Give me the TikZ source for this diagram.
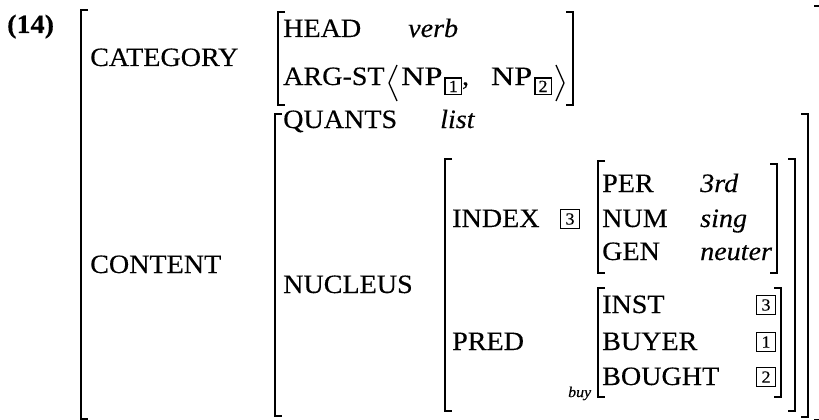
\documentclass[tikz,border=0pt]{standalone}
\usepackage{graphicx}
\usepackage{fontspec}
\setmainfont{Liberation Serif}[FakeStretch=1.06,FakeBold=0.3]
\newcommand\mainsz{\fontsize{26.5}{30}\selectfont}
\newcommand\tagsz{\fontsize{17}{17}\selectfont}
\newcommand\ibx[1]{\hspace{2pt}\raisebox{-7pt}{\setlength\fboxsep{2pt}\setlength\fboxrule{1.3pt}\fbox{\tagsz\makebox[11pt]{#1}}}}
\newcommand\wNP{\scalebox{1.15}[1]{NP}}
\tikzset{
  lbl/.style={anchor=base west, inner sep=0pt, font=\mainsz},
  val/.style={anchor=base west, inner sep=0pt, font=\mainsz\itshape},
  tagbox/.style={draw, line width=1.3pt, minimum width=19pt, minimum height=19pt, inner sep=0pt, font=\tagsz},
  brk/.style={line width=2.2pt, line cap=butt, line join=miter},
  ang/.style={line width=1.3pt, line join=miter}
}
\begin{document}
\begin{tikzpicture}[x=1pt,y=-1pt]
\useasboundingbox (0,0) rectangle (819,420);
\newcommand\lbrk[3]{\draw[brk] (#1+7,#2) -- (#1,#2) -- (#1,#3) -- (#1+7,#3);}
\newcommand\rbrk[3]{\draw[brk] (#1-7,#2) -- (#1,#2) -- (#1,#3) -- (#1-7,#3);}
% outer
\lbrk{81}{10}{419}
\rbrk{821}{6}{420}
% CATEGORY value
\lbrk{278}{12}{105}
\rbrk{573}{12}{105}
% CONTENT value
\lbrk{275}{114}{416}
\rbrk{808}{114}{417}
% NUCLEUS value
\lbrk{445}{159}{411}
\rbrk{795}{159}{411}
% INDEX value
\lbrk{598}{161}{273}
\rbrk{777}{164}{273}
% PRED value
\lbrk{598}{288}{397}
\rbrk{781}{288}{397}

\node[anchor=base west, inner sep=0pt, font=\mainsz\bfseries] (ex) at (7,33) {(14)};

\node[lbl] (cat) at (90,66) {CATEGORY};
\node[lbl] (head) at (283,37) {HEAD};
\node[val] (verb) at (408,37) {verb};
\node[lbl] (argst) at (283,85) {ARG-ST};
\node[lbl] (np1) at (401,85) {\wNP\ibx{1},};
\node[anchor=base east, inner sep=0pt, font=\mainsz] (np2) at (552,85) {\wNP\ibx{2}};
\draw[ang] (397,65) -- (389,83) -- (397,101);
\draw[ang] (556,65) -- (564,83) -- (556,101);

\node[lbl] (cont) at (90,273) {CONTENT};
\node[lbl] (quants) at (283,128) {QUANTS};
\node[val] (list) at (440,128) {list};
\node[lbl] (nucl) at (283,293) {NUCLEUS};

\node[lbl] (index) at (452,227) {INDEX};
\node[tagbox] (t3a) at (570,219) {3};
\node[lbl] (per) at (602,192) {PER};
\node[val] (third) at (700,192) {3rd};
\node[lbl] (num) at (602,227) {NUM};
\node[val] (sing) at (700,227) {sing};
\node[lbl] (gen) at (602,260) {GEN};
\node[val] (neut) at (700,260) {neuter};

\node[lbl] (pred) at (452,350) {PRED};
\node[lbl] (inst) at (602,313) {INST};
\node[tagbox] (t3b) at (766,305) {3};
\node[lbl] (buyer) at (602,350) {BUYER};
\node[tagbox] (t1) at (766,342) {1};
\node[lbl] (bought) at (602,385) {BOUGHT};
\node[tagbox] (t2) at (766,377) {2};
\node[anchor=base west, inner sep=0pt, font=\fontsize{15}{15}\selectfont\itshape] (buy) at (568,397) {buy};
\end{tikzpicture}
\end{document}
